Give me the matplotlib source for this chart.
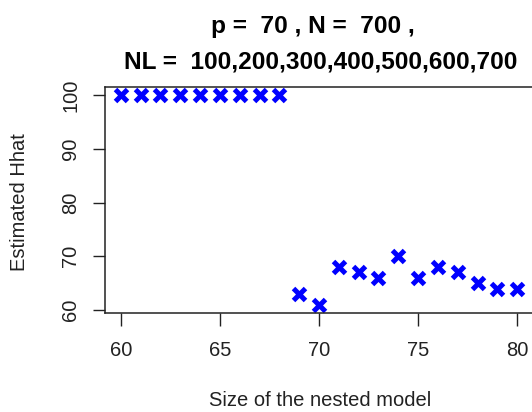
import matplotlib
matplotlib.use("Agg")
import matplotlib.pyplot as plt

plt.rcParams["font.family"] = ["Liberation Sans", "DejaVu Sans"]

# nested model sizes and estimated Hhat
sizes = [60, 61, 62, 63, 64, 65, 66, 67, 68, 69, 70, 71, 72, 73, 74, 75, 76, 77, 78, 79, 80]
hhat = [100, 100, 100, 100, 100, 100, 100, 100, 100,
        63, 61, 68, 67, 66, 70, 66, 68, 67, 65, 64, 64]
xticks = [60, 65, 70, 75, 80]
yticks = [60, 70, 80, 90, 100]

W, H = 532, 412
fig = plt.figure(figsize=(W / 100, H / 100), dpi=100)
# R-like plot region: box right edge falls just past the image edge
ax = fig.add_axes([105 / W, (H - 313) / H, 428 / W, 226 / H])

ax.plot(sizes, hhat, linestyle="none", marker="x", color="#0000FF",
        markersize=8, markeredgewidth=3.6)

# R pads the data range by 4%
xr = max(sizes) - min(sizes)
yr = max(hhat) - min(hhat)
ax.set_xlim(min(sizes) - 0.04 * xr, max(sizes) + 0.04 * xr)
ax.set_ylim(min(hhat) - 0.04 * yr, max(hhat) + 0.04 * yr)

ax.set_xticks(xticks)
ax.set_yticks(yticks)
ax.tick_params(direction="out", length=9, width=1, colors="#222222",
               labelsize=14.5)
ax.tick_params(axis="x", pad=11)
ax.tick_params(axis="y", pad=9)
for lab in ax.get_yticklabels():
    lab.set_rotation(90)
    lab.set_va("center")
for s in ax.spines.values():
    s.set_linewidth(1.1)
    s.set_color("#222222")

fig.text(320 / W, 1 - 400 / H, "Size of the nested model", ha="center",
         va="center", fontsize=14.5, color="#222222")
fig.text(20 / W, 1 - 202 / H, "Estimated Hhat", ha="center", va="center",
         rotation=90, fontsize=14.5, color="#222222")

fig.text(313 / W, 1 - 27 / H, "p =  70 , N =  700 ,", ha="center",
         va="center", fontsize=17.6, fontweight="bold")
fig.text(321 / W, 1 - 62 / H, "NL =  100,200,300,400,500,600,700",
         ha="center", va="center", fontsize=17.6, fontweight="bold")

fig.savefig("out.png", dpi=100)
